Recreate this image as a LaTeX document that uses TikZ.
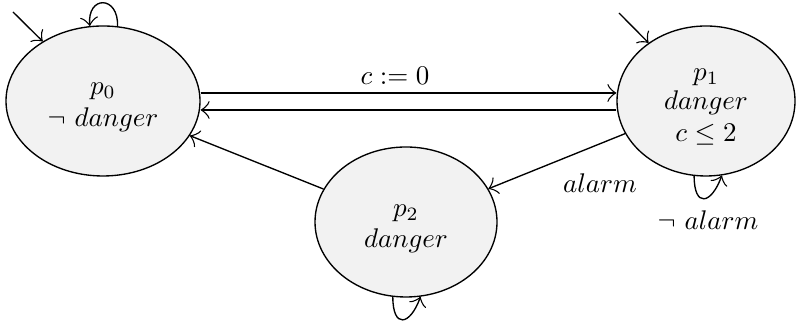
\documentclass[tikz,border=0pt]{standalone}
\usetikzlibrary{shapes.geometric,arrows.meta}
\newcommand{\stxt}[1]{\raisebox{-1.2pt}[\height][\depth]{\begin{tabular}{@{}c@{}}#1\end{tabular}}}
\begin{document}
\begin{tikzpicture}[x=0.3704pt,y=0.3704pt,line width=0.5pt,
  >={Classical TikZ Rightarrow[length=3.3pt,width=6.6pt]},
  state/.style={ellipse,draw,fill=black!5,inner sep=0pt,align=center},
  lbl/.style={inner sep=1pt}]
\useasboundingbox (0,0) rectangle (796,-323);
\node[state,minimum width=194*0.3704pt,minimum height=150*0.3704pt] (p0) at (103,-101) {\stxt{$p_0$\\[-0.3pt]$\neg$ $danger$}};
\node[state,minimum width=178*0.3704pt,minimum height=150*0.3704pt] (p1) at (706,-101) {\stxt{$p_1$\\[-1.2pt]$danger$\\[-0.3pt]$c\leq 2$}};
\node[state,minimum width=182*0.3704pt,minimum height=150*0.3704pt] (p2) at (406,-222) {\stxt{$p_2$\\[-0.5pt]$danger$}};
% transitions
\draw[->] ([yshift=8*0.3704pt]p0.east) -- ([yshift=8*0.3704pt]p1.west);
\draw[->] ([yshift=-9*0.3704pt]p1.west) -- ([yshift=-9*0.3704pt]p0.east);
\draw[->] (p1) -- (p2);
\draw[->] (p2) -- (p0);
% labels
\node[lbl] (l0) at (395,-76) {$c := 0$};
\node[lbl] (l1) at (600,-183) {$alarm$};
\node[lbl] (l2) at (708,-220) {$\neg$ $alarm$};
% loops
\draw[->] (p0.79) .. controls +(88:31) and +(95:31) .. (p0.100);
\draw[->] (p1.-99) .. controls +(-90:32) and +(-110:31) .. (p1.-78);
\draw[->] (p2.-100.6) .. controls +(-90:32) and +(-110:31) .. (p2.-79.4);
% initial arrows
\coordinate (i0) at (13,-12);
\coordinate (i1) at (619,-13);
\draw[->] (i0) -- (p0);
\draw[->] (i1) -- (p1);
\end{tikzpicture}
\end{document}
